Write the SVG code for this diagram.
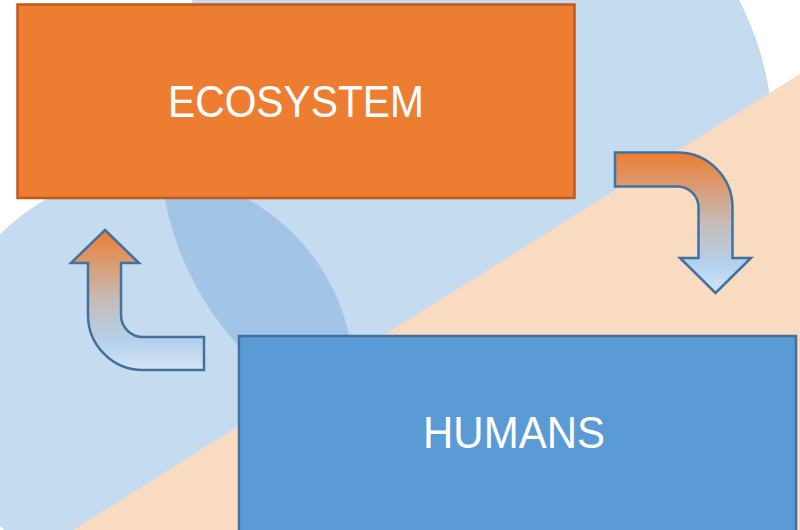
<svg xmlns="http://www.w3.org/2000/svg" width="800" height="530" viewBox="0 0 800 530">
  <defs>
    <linearGradient id="flow" x1="0" y1="0" x2="0" y2="1">
      <stop offset="0" stop-color="#ed7d31"/>
      <stop offset="0.5" stop-color="#c6bcb8"/>
      <stop offset="0.8" stop-color="#b4d1ec"/>
      <stop offset="1" stop-color="#d4e5f5"/>
    </linearGradient>
    <clipPath id="bigCircle">
      <circle cx="466" cy="140" r="307"/>
    </clipPath>
    <style>
      .bg-light { fill: #c5dbef; }
      .bg-dark { fill: #a2c4e6; }
      .bg-peach { fill: #f8dbc1; }
      .box-eco { fill: #ed7d31; stroke: #c0591b; stroke-width: 2.5; }
      .box-hum { fill: #5b9bd5; stroke: #41719c; stroke-width: 2.5; }
      .label { fill: #ffffff; font-family: "Liberation Sans", "DejaVu Sans", sans-serif; font-size: 44px; text-anchor: middle; }
      .arrow { fill: url(#flow); stroke: #41719c; stroke-width: 2.5; stroke-linejoin: miter; }
    </style>
  </defs>

  <!-- background -->
  <rect x="0" y="0" width="800" height="530" fill="#ffffff"/>
  <circle class="bg-light" cx="466" cy="140" r="307"/>
  <circle class="bg-light" cx="147" cy="380" r="207"/>
  <circle class="bg-dark" cx="147" cy="380" r="207" clip-path="url(#bigCircle)"/>
  <polygon class="bg-peach" points="73,530 800,74 800,530"/>

  <g id="ecosystem">
    <rect class="box-eco" x="17.5" y="4.5" width="557" height="193.5"/>
    <text class="label" x="296" y="117" textLength="256" lengthAdjust="spacingAndGlyphs">ECOSYSTEM</text>
  </g>

  <g id="humans">
    <rect class="box-hum" x="239" y="336" width="557" height="200"/>
    <text class="label" x="514" y="448" font-size="45" textLength="182" lengthAdjust="spacingAndGlyphs">HUMANS</text>
  </g>

  <g id="connectors">
    <path id="eco-to-humans" class="arrow" d="M615,152.5 H677.5 A55,55 0 0 1 732.5,207.5 V258 H751 L715.5,293 L680,258 H698.5 V207.5 A21,21 0 0 0 677.5,186.5 H615 Z"/>
    <path id="humans-to-eco" class="arrow" d="M105,230 L139,263 H121 V315 A22,22 0 0 0 143,337 H204 V370 H143 A55,55 0 0 1 88,315 V263 H71 Z"/>
  </g>
</svg>
